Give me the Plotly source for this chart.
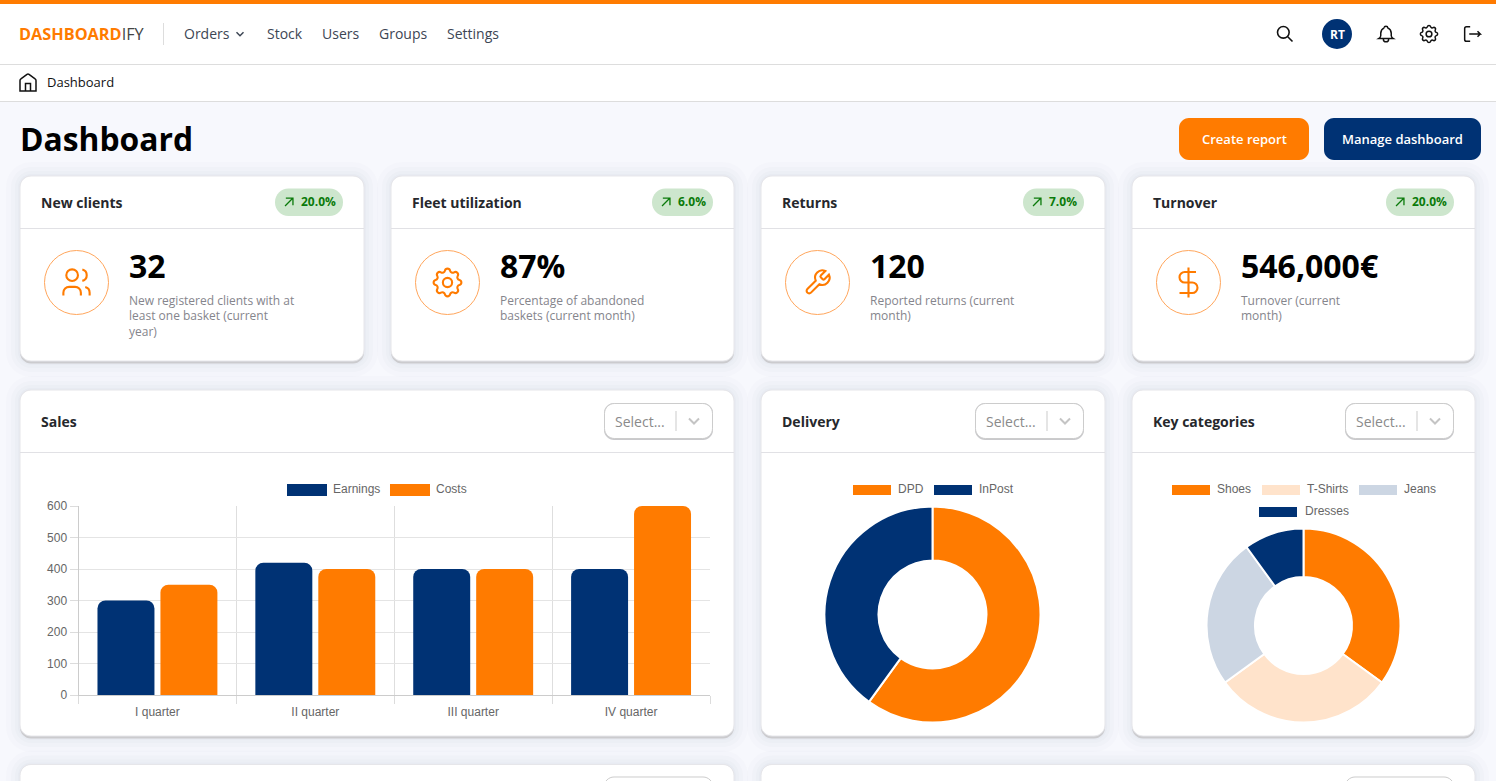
import math
import re
import plotly.graph_objects as go

W, H = 1496, 781

# ---------- data ----------
quarters = ["I quarter", "II quarter", "III quarter", "IV quarter"]
earnings = [300, 420, 400, 400]
costs = [350, 400, 400, 600]
sales_ticks = [0, 100, 200, 300, 400, 500, 600]
delivery_labels = ["DPD", "InPost"]
delivery_values = [60, 40]
category_labels = ["Shoes", "T-Shirts", "Jeans", "Dresses"]
category_values = [35, 30, 25, 10]
kpi_titles = ["New clients", "Fleet utilization", "Returns", "Turnover"]
kpi_badges = ["20.0%", "6.0%", "7.0%", "20.0%"]
kpi_values = ["32", "87%", "120", "546,000€"]
kpi_notes = [
    ["New registered clients with at", "least one basket (current", "year)"],
    ["Percentage of abandoned", "baskets (current month)"],
    ["Reported returns (current", "month)"],
    ["Turnover (current", "month)"],
]
nav_items = ["Orders", "Stock", "Users", "Groups", "Settings"]

# ---------- colours ----------
ORANGE = "#ff7b00"
NAVY = "#003274"
PEACH = "#ffe3cb"
STEEL = "#ccd6e3"
BG = "#f7f8fd"
UI = "Open Sans"
CHART = "Liberation Sans"

shapes, notes = [], []


def fx(x):
    return round(x / W, 6)


def fy(y):
    return round(1 - y / H, 6)


def path(points):
    out = []
    for cmd, coords in points:
        pairs = [f"{fx(coords[i])},{fy(coords[i + 1])}" for i in range(0, len(coords), 2)]
        out.append(cmd + " ".join(pairs))
    return " ".join(out)


def rrect_path(x0, y0, x1, y1, r):
    k = r * 0.4477
    return path([
        ("M", [x0 + r, y0]), ("L", [x1 - r, y0]),
        ("C", [x1 - k, y0, x1, y0 + k, x1, y0 + r]), ("L", [x1, y1 - r]),
        ("C", [x1, y1 - k, x1 - k, y1, x1 - r, y1]), ("L", [x0 + r, y1]),
        ("C", [x0 + k, y1, x0, y1 - k, x0, y1 - r]), ("L", [x0, y0 + r]),
        ("C", [x0, y0 + k, x0 + k, y0, x0 + r, y0]),
    ]) + " Z"


def rrect(x0, y0, x1, y1, r, fill="rgba(0,0,0,0)", line=None, lw=1, layer="below", opacity=None):
    s = dict(type="path", xref="paper", yref="paper", path=rrect_path(x0, y0, x1, y1, r),
             fillcolor=fill, line=dict(color=line or "rgba(0,0,0,0)", width=lw if line else 0), layer=layer)
    if opacity is not None:
        s["opacity"] = opacity
    shapes.append(s)


def rect(x0, y0, x1, y1, fill, layer="below"):
    shapes.append(dict(type="rect", xref="paper", yref="paper", x0=fx(x0), x1=fx(x1), y0=fy(y1), y1=fy(y0),
                       fillcolor=fill, line=dict(width=0), layer=layer))


def circle(cx, cy, r, fill="rgba(0,0,0,0)", line=None, lw=1, layer="above"):
    shapes.append(dict(type="circle", xref="paper", yref="paper", x0=fx(cx - r), x1=fx(cx + r),
                       y0=fy(cy + r), y1=fy(cy - r), fillcolor=fill,
                       line=dict(color=line or "rgba(0,0,0,0)", width=lw if line else 0), layer=layer))


def text(x, y, s, size=14, color="#333", weight=400, anchor="left", family=UI):
    notes.append(dict(xref="paper", yref="paper", x=fx(x), y=fy(y), text=s, showarrow=False,
                      xanchor=anchor, yanchor="middle", borderpad=0, borderwidth=0,
                      font=dict(family=family, size=size, color=color, weight=weight)))


def arc_cubics(x1, y1, r, large, sweep, x2, y2):
    if (x1, y1) == (x2, y2):
        return []
    dx, dy = (x1 - x2) / 2, (y1 - y2) / 2
    lam = (dx * dx + dy * dy) / (r * r)
    if lam > 1:
        r *= math.sqrt(lam)
    d = max(0, (r * r - dx * dx - dy * dy) / (dx * dx + dy * dy))
    c = math.sqrt(d) * (1 if large != sweep else -1)
    cxp, cyp = c * dy, -c * dx
    cx, cy = cxp + (x1 + x2) / 2, cyp + (y1 + y2) / 2
    a1 = math.atan2(y1 - cy, x1 - cx)
    a2 = math.atan2(y2 - cy, x2 - cx)
    da = a2 - a1
    if sweep and da < 0:
        da += 2 * math.pi
    if not sweep and da > 0:
        da -= 2 * math.pi
    n = max(1, math.ceil(abs(da) / (math.pi / 2) - 1e-6))
    step = da / n
    t = 4 / 3 * math.tan(step / 4)
    out = []
    a = a1
    for _ in range(n):
        b = a + step
        out.append([cx + r * (math.cos(a) - t * math.sin(a)), cy + r * (math.sin(a) + t * math.cos(a)),
                    cx + r * (math.cos(b) + t * math.sin(b)), cy + r * (math.sin(b) - t * math.cos(b)),
                    cx + r * math.cos(b), cy + r * math.sin(b)])
        a = b
    return out


def svg_segments(d):
    toks = re.findall(r"[a-zA-Z]|-?\d*\.?\d+", d)
    i, cmd, x, y, sx, sy = 0, None, 0.0, 0.0, 0.0, 0.0
    segs = []

    def num():
        nonlocal i
        v = float(toks[i])
        i += 1
        return v

    while i < len(toks):
        if toks[i].isalpha():
            cmd = toks[i]
            i += 1
            if cmd in "zZ":
                segs.append(("Z", []))
                x, y = sx, sy
                continue
        rel = cmd.islower()
        c = cmd.upper()
        if c == "M":
            nx, ny = num(), num()
            x, y = (x + nx, y + ny) if rel else (nx, ny)
            sx, sy = x, y
            segs.append(("M", [x, y]))
            cmd = "l" if rel else "L"
        elif c == "L":
            nx, ny = num(), num()
            x, y = (x + nx, y + ny) if rel else (nx, ny)
            segs.append(("L", [x, y]))
        elif c == "H":
            nx = num()
            x = x + nx if rel else nx
            segs.append(("L", [x, y]))
        elif c == "V":
            ny = num()
            y = y + ny if rel else ny
            segs.append(("L", [x, y]))
        elif c == "C":
            v = [num() for _ in range(6)]
            if rel:
                v = [v[k] + (x if k % 2 == 0 else y) for k in range(6)]
            segs.append(("C", v))
            x, y = v[4], v[5]
        elif c == "A":
            r, _, _, large, sweep, nx, ny = [num() for _ in range(7)]
            ex, ey = (x + nx, y + ny) if rel else (nx, ny)
            for cub in arc_cubics(x, y, r, int(large), int(sweep), ex, ey):
                segs.append(("C", cub))
            x, y = ex, ey
    return segs


def icon(d, cx, cy, span=24, color="#222", lw=1.5):
    s = span / 24
    ox, oy = cx - 12 * s, cy - 12 * s
    parts = []
    for cmd, v in svg_segments(d):
        if cmd == "Z":
            parts.append("Z")
            continue
        parts.append(path([(cmd, [(ox + v[k] * s) if k % 2 == 0 else (oy + v[k] * s) for k in range(len(v))])]))
    shapes.append(dict(type="path", xref="paper", yref="paper", path=" ".join(parts),
                       line=dict(color=color, width=lw), fillcolor="rgba(0,0,0,0)", layer="above"))


def ring(cx, cy, r):
    return f"M{cx - r} {cy} a{r} {r} 0 1 0 {2 * r} 0 a{r} {r} 0 1 0 {-2 * r} 0"


I_SEARCH = ring(10, 10, 7) + " M21 21 l-6 -6"
I_BELL = "M10 5a2 2 0 1 1 4 0a7 7 0 0 1 4 6v3a4 4 0 0 0 2 3h-16a4 4 0 0 0 2 -3v-3a7 7 0 0 1 4 -6 M9 17v1a3 3 0 0 0 6 0v-1"
I_GEAR = ("M10.325 4.317c.426 -1.756 2.924 -1.756 3.35 0a1.724 1.724 0 0 0 2.573 1.066c1.543 -.94 3.31 .826 2.37 2.37"
          "a1.724 1.724 0 0 0 1.065 2.572c1.756 .426 1.756 2.924 0 3.35a1.724 1.724 0 0 0 -1.066 2.573"
          "c.94 1.543 -.826 3.31 -2.37 2.37a1.724 1.724 0 0 0 -2.572 1.065c-.426 1.756 -2.924 1.756 -3.35 0"
          "a1.724 1.724 0 0 0 -2.573 -1.066c-1.543 .94 -3.31 -.826 -2.37 -2.37a1.724 1.724 0 0 0 -1.065 -2.572"
          "c-1.756 -.426 -1.756 -2.924 0 -3.35a1.724 1.724 0 0 0 1.066 -2.573c-.94 -1.543 .826 -3.31 2.37 -2.37"
          "c1 .608 2.296 .07 2.572 -1.065z ") + ring(12, 12, 3)
I_LOGOUT = "M10 4H6a2 2 0 0 0 -2 2v12a2 2 0 0 0 2 2h4 M9 12h12l-3 -3 M18 15l3 -3"
I_HOME = "M4 21V10.5C4 9.8 4.3 9.2 4.9 8.8L11 4.3C11.6 3.9 12.4 3.9 13 4.3L19.1 8.8C19.7 9.2 20 9.8 20 10.5V21Z M9.5 21V13.5H14.5V21"
I_USERS = ring(9, 7, 4) + " M3 21v-2a4 4 0 0 1 4 -4h4a4 4 0 0 1 4 4v2 M16 3.13a4 4 0 0 1 0 7.75 M21 21v-2a4 4 0 0 0 -3 -3.85"
I_WRENCH = ("M14.7 6.3a1 1 0 0 0 0 1.4l1.6 1.6a1 1 0 0 0 1.4 0l3.77 -3.77a6 6 0 0 1 -7.94 7.94l-6.91 6.91"
            "a2.12 2.12 0 0 1 -3 -3l6.91 -6.91a6 6 0 0 1 7.94 -7.94l-3.76 3.76z")
I_DOLLAR = "M12 2v20 M17 5H9.5a3.5 3.5 0 0 0 0 7h5a3.5 3.5 0 0 1 0 7H6"
I_ARROW = "M17 7l-10 10 M8 7l9 0l0 9"
I_CHEV = "M6 9l6 6l6 -6"


def card(x0, y0, x1, y1, head=None):
    for grow, alpha in ((14, 0.012), (9, 0.014), (5, 0.016), (2, 0.02)):
        rrect(x0 - grow, y0 - grow, x1 + grow, y1 + grow + 2, 11 + grow, fill=f"rgba(30,40,90,{alpha})")
    rrect(x0, y0, x1, y1 + 2.5, 11, fill="#cbcbce")
    rrect(x0, y0, x1, y1, 11, fill="#ffffff", line="#e6e6ea", lw=1)
    if head is not None:
        rect(x0, head, x1, head + 1, "#e1e1e5")


def select_box(x0, y0):
    x1 = x0 + 109
    y1 = y0 + 36
    rrect(x0, y0, x1, y1 + 1, 10, fill="#c9c9cc", layer="below")
    rrect(x0 + 0.5, y0 + 0.5, x1 - 0.5, y1 - 0.5, 10, fill="#ffffff", line="#cccccc", lw=1, layer="below")
    text(x0 + 11, y0 + 18.5, "Select...", 14, "#8a8a8a")
    rect(x0 + 71.5, y0 + 8, x0 + 72.5, y0 + 28, "#cccccc")
    icon(I_CHEV, x0 + 90, y0 + 18, 20, "#c4c4c4", 2)


# ---------- page chrome ----------
rect(0, 0, W, H, BG)
rect(0, 4, W, 101, "#ffffff")
rect(0, 0, W, 4, ORANGE)
rect(0, 64, W, 65, "#dddddd")
rect(0, 101, W, 102, "#dddddd")
rect(163, 23, 164, 45, "#dddddd")

text(19, 34, f"<span style='color:{ORANGE}'><b>DASHBOARD</b></span>IFY", 16.3, "#444444")
for label, x in zip(nav_items, [184, 267, 322, 379, 447]):
    text(x, 33.5, label, 14, "#3d4654")
icon(I_CHEV, 240, 34, 14, "#3d4654", 1.5)
icon(I_HOME, 28, 82, 24, "#111111", 1.5)
text(47, 82, "Dashboard", 13, "#111111")
text(19.5, 138.5, "Dashboard", 31.8, "#000000", 700)

icon(I_SEARCH, 1285, 34, 20, "#111111", 1.6)
circle(1337, 34, 15, fill=NAVY)
text(1337, 34, "RT", 12, "#ffffff", 700, "center")
icon(I_BELL, 1386, 34, 21, "#111111", 1.5)
icon(I_GEAR, 1429, 34, 23, "#111111", 1.5)
icon(I_LOGOUT, 1472, 34, 22, "#111111", 1.5)

rrect(1179, 118, 1309, 160, 10, fill=ORANGE)
text(1244, 139, "Create report", 13, "#ffffff", 600, "center")
rrect(1324, 118, 1481, 160, 10, fill=NAVY)
text(1402.5, 139, "Manage dashboard", 13, "#ffffff", 600, "center")

# ---------- KPI cards ----------
kpi_x = [(20, 364), (391, 734), (761, 1105), (1132, 1475)]
pill_x = [(275, 343), (652, 713), (1023, 1084), (1386, 1454)]
kpi_icons = [I_USERS, I_GEAR, I_WRENCH, I_DOLLAR]
icon_span = [35, 37, 29, 36]
for i, (x0, x1) in enumerate(kpi_x):
    card(x0, 176, x1, 361, head=228)
    text(x0 + 21, 202.5, kpi_titles[i], 14, "#26282c", 700)
    px0, px1 = pill_x[i]
    rrect(px0, 188.5, px1, 216, 13.5, fill="#cde6cd")
    icon(I_ARROW, px0 + 14, 202, 19, "#0a7a0a", 1.3)
    text(px0 + 26, 201.5, kpi_badges[i], 12, "#0a7a0a", 700)
    cx = x0 + 56.5
    circle(cx, 282.5, 32, fill="#ffffff", line="#ffa65c", lw=1)
    icon(kpi_icons[i], cx, 282.5, icon_span[i], ORANGE, 2.1)
    text(x0 + 109, 265, kpi_values[i], 32, "#000000", 700)
    for j, line in enumerate(kpi_notes[i]):
        text(x0 + 109, 300 + 16 * j, line, 12, "#85858c")

# ---------- chart cards ----------
chart_cards = [(20, 734, "Sales", 604), (761, 1105, "Delivery", 975), (1132, 1475, "Key categories", 1345)]
for x0, x1, title, sx in chart_cards:
    card(x0, 390, x1, 736, head=452)
    text(x0 + 21, 421.5, title, 14, "#26282c", 700)
    select_box(sx, 403)

# bottom row, cut off by the window
card(20, 764.5, 734, 900)
card(761, 764.5, 1475, 900)
for sx in (604, 1345):
    rrect(sx, 777, sx + 109, 820, 10, fill="#ffffff", line="#cccccc", lw=1)


# ---------- chart legends ----------
def swatch(x0, y0, w, h, color, label, tx, ty):
    rect(x0, y0, x0 + w, y0 + h, color)
    text(tx, ty, label, 12, "#666666", 400, "left", CHART)


swatch(287, 484, 40, 12, NAVY, "Earnings", 333, 489)
swatch(390, 484, 40, 12, ORANGE, "Costs", 436, 489)
swatch(853, 485, 38, 10, ORANGE, delivery_labels[0], 898, 489)
swatch(934, 485, 38, 10, NAVY, delivery_labels[1], 979, 489)
swatch(1172, 485, 38, 10, ORANGE, category_labels[0], 1217, 489)
swatch(1262, 485, 38, 10, PEACH, category_labels[1], 1307, 489)
swatch(1359, 485, 38, 10, STEEL, category_labels[2], 1404, 489)
swatch(1259, 507, 38, 10, NAVY, category_labels[3], 1305, 511)

# ---------- traces ----------
fig = go.Figure()
fig.add_bar(x=quarters, y=earnings, name="Earnings", marker=dict(color=NAVY, line=dict(width=0)), showlegend=False)
fig.add_bar(x=quarters, y=costs, name="Costs", marker=dict(color=ORANGE, line=dict(width=0)), showlegend=False)
fig.add_pie(labels=delivery_labels, values=delivery_values, hole=0.5, sort=False, direction="clockwise", rotation=0,
            domain=dict(x=[824.5 / W, 1040.5 / W], y=[1 - 722.5 / H, 1 - 506.5 / H]), textinfo="none", showlegend=False,
            marker=dict(colors=[ORANGE, NAVY], line=dict(color="#ffffff", width=2)))
fig.add_pie(labels=category_labels, values=category_values, hole=0.5, sort=False, direction="clockwise", rotation=0,
            domain=dict(x=[1206.5 / W, 1400.5 / W], y=[1 - 722.5 / H, 1 - 528.5 / H]), textinfo="none", showlegend=False,
            marker=dict(colors=[ORANGE, PEACH, STEEL, NAVY], line=dict(color="#ffffff", width=2)))

fig.update_layout(
    width=W, height=H, autosize=False,
    margin=dict(l=0, r=0, t=0, b=0, pad=0),
    paper_bgcolor=BG, plot_bgcolor="rgba(0,0,0,0)",
    barmode="group", bargap=0.2025, bargroupgap=0.095, barcornerradius=8,
    showlegend=False, hovermode=False,
    shapes=shapes, annotations=notes,
    font=dict(family=UI),
    xaxis=dict(domain=[78.5 / W, 710 / W], automargin=False, tickson="boundaries", ticks="outside", ticklen=8, tickcolor="#dcdcdc",
               showgrid=True, gridcolor="#dedede", gridwidth=1, showline=True, linecolor="#cccccc", linewidth=1,
               ticklabelstandoff=6, tickfont=dict(family=CHART, size=12, color="#666666"), fixedrange=True),
    yaxis=dict(domain=[1 - 695 / H, 1 - 506 / H], automargin=False, range=[0, 600], tickvals=sales_ticks, ticks="outside", ticklen=8,
               tickcolor="#dcdcdc", showgrid=True, gridcolor="#e4e4e4", gridwidth=1, showline=True, linecolor="#cccccc",
               linewidth=1, zeroline=False, tickfont=dict(family=CHART, size=12, color="#666666"), fixedrange=True),
)

fig.write_html("out.html", config=dict(displayModeBar=False, staticPlot=False),
               post_script="document.body.style.margin='0';document.body.style.overflow='hidden';")
